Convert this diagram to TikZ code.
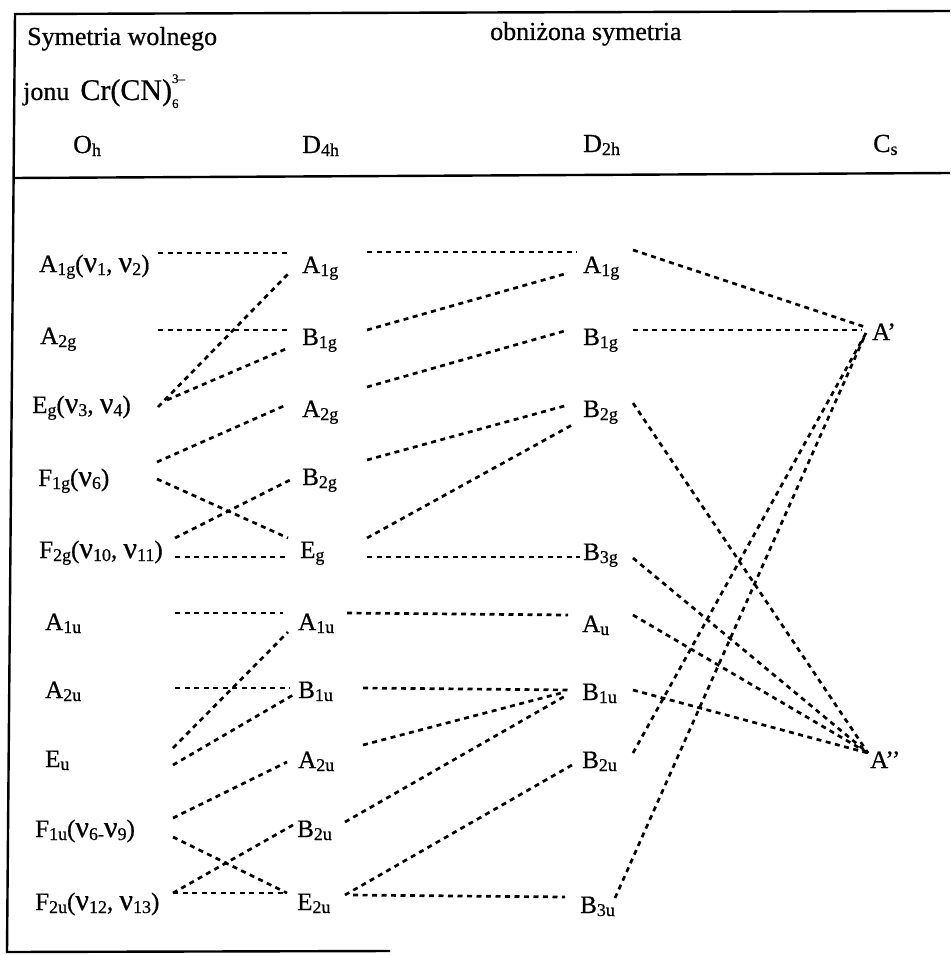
\documentclass[tikz,border=0pt]{standalone}
\usepackage{fontspec}
\setmainfont{Liberation Serif}[FakeBold=0.6]
\usetikzlibrary{calc}
\newcommand\mysub[1]{\raisebox{-3pt}{\fontsize{18}{18}\selectfont #1}}
\newcommand\gnu{{\fontsize{30}{30}\selectfont ν}}
\begin{document}
\begin{tikzpicture}[x=1pt,y=-1pt,
  lab/.style={anchor=base west, inner sep=0pt, font=\fontsize{25}{30}\selectfont},
  hd/.style={anchor=base west, inner sep=0pt, font=\fontsize{26}{30}\selectfont},
  dl/.style={line width=2.7pt, dash pattern=on 5pt off 4.5pt},
  framel/.style={line width=2.4pt}]
\useasboundingbox (0,0) rectangle (950,955);
\fill[white] (0,0) rectangle (950,955);
% frame
\coordinate (ftl) at (15,14);
\coordinate (ftr) at (950,11);
\coordinate (fhl) at (13,178);
\coordinate (fhr) at (950,173);
\coordinate (fbl) at (7,952);
\coordinate (fbr) at (390,951);
\draw[framel] (ftr) -- (ftl) -- (fbl) -- (fbr);
\draw[framel] (fhl) -- (fhr);
% header
\node[hd] (h1) at (27,45) {Symetria wolnego};
\node[hd] (h2) at (23,100) {jonu\hspace{11pt}{\fontsize{30}{30}\selectfont Cr(CN)}\makebox[0pt][l]{\raisebox{17pt}{\fontsize{13}{13}\selectfont 3–}}\raisebox{-8pt}{\fontsize{13}{13}\selectfont 6}};
\node[hd] (h3) at (73,153) {O\mysub{h}};
\node[hd] (h4) at (302,153) {D\mysub{4h}};
\node[hd] (h5) at (490,40) {obniżona symetria};
\node[hd] (h6) at (583,152) {D\mysub{2h}};
\node[hd] (h7) at (873,152) {C\mysub{s}};
% O_h column
\node[lab] (o1) at (39,272) {A\mysub{1g}(\gnu\mysub{1}, \gnu\mysub{2})};
\node[lab] (o2) at (40,344) {A\mysub{2g}};
\node[lab] (o3) at (32,413) {E\mysub{g}(\gnu\mysub{3}, \gnu\mysub{4})};
\node[lab] (o4) at (38,486) {F\mysub{1g}(\gnu\mysub{6})};
\node[lab] (o5) at (39,558) {F\mysub{2g}(\gnu\mysub{10}, \gnu\mysub{11})};
\node[lab] (o6) at (45,630) {A\mysub{1u}};
\node[lab] (o7) at (45,698) {A\mysub{2u}};
\node[lab] (o8) at (45,767) {E\mysub{u}};
\node[lab] (o9) at (35,837) {F\mysub{1u}(\gnu\mysub{6-}\gnu\mysub{9})};
\node[lab] (o10) at (35,910) {F\mysub{2u}(\gnu\mysub{12}, \gnu\mysub{13})};
% D_4h column
\node[lab] (d1) at (302,273) {A\mysub{1g}};
\node[lab] (d2) at (302,345) {B\mysub{1g}};
\node[lab] (d3) at (302,417) {A\mysub{2g}};
\node[lab] (d4) at (302,485) {B\mysub{2g}};
\node[lab] (d5) at (300,558) {E\mysub{g}};
\node[lab] (d6) at (298,630) {A\mysub{1u}};
\node[lab] (d7) at (298,698) {B\mysub{1u}};
\node[lab] (d8) at (298,768) {A\mysub{2u}};
\node[lab] (d9) at (297,837) {B\mysub{2u}};
\node[lab] (d10) at (297,910) {E\mysub{2u}};
% D_2h column
\node[lab] (e1) at (583,273) {A\mysub{1g}};
\node[lab] (e2) at (583,345) {B\mysub{1g}};
\node[lab] (e3) at (583,417) {B\mysub{2g}};
\node[lab] (e4) at (583,560) {B\mysub{3g}};
\node[lab] (e5) at (582,632) {A\mysub{u}};
\node[lab] (e6) at (582,700) {B\mysub{1u}};
\node[lab] (e7) at (582,768) {B\mysub{2u}};
\node[lab] (e8) at (580,913) {B\mysub{3u}};
% C_s column
\node[lab] (c1) at (872,340) {A’};
\node[lab] (c2) at (870,768) {A’’};
% O_h -> D_4h
\draw[dl] ($(o1.base west)+(119,-19)$) -- ($(d1.base west)+(-14,-20)$);
\draw[dl] ($(o2.base west)+(118,-14)$) -- ($(d2.base west)+(-14,-15)$);
\draw[dl] ($(o3.base west)+(126,-6)$) -- ($(d1.base west)+(-12,-1)$);
\draw[dl] ($(o3.base west)+(135,-13)$) -- ($(d2.base west)+(-14,3)$);
\draw[dl] ($(o4.base west)+(119,-24)$) -- ($(d3.base west)+(-16,-12)$);
\draw[dl] ($(o4.base west)+(119,-7)$) -- ($(d5.base west)+(-12,-20)$);
\draw[dl] ($(o5.base west)+(136,-20)$) -- ($(d4.base west)+(-12,-5)$);
\draw[dl] ($(o5.base west)+(136,-1)$) -- ($(d5.base west)+(-15,-1)$);
\draw[dl] ($(o6.base west)+(130,-17)$) -- ($(d6.base west)+(-15,-17)$);
\draw[dl] ($(o8.base west)+(128,-19)$) -- ($(d6.base west)+(-10,2)$);
\draw[dl] ($(o8.base west)+(128,-2)$) -- ($(d7.base west)+(-5,-3)$);
\draw[dl] ($(o7.base west)+(130,-10)$) -- ($(d7.base west)+(-8,-10)$);
\draw[dl] ($(o9.base west)+(138,-19)$) -- ($(d8.base west)+(-11,-6)$);
\draw[dl] ($(o9.base west)+(138,0)$) -- ($(d10.base west)+(-10,-17)$);
\draw[dl] ($(o10.base west)+(138,-17)$) -- ($(d9.base west)+(-4,-12)$);
\draw[dl] ($(o10.base west)+(138,-17)$) -- ($(d10.base west)+(-12,-17)$);
% D_4h -> D_2h
\draw[dl] ($(d1.base west)+(65,-21)$) -- ($(e1.base west)+(-6,-21)$);
\draw[dl] ($(d2.base west)+(65,-15)$) -- ($(e1.base west)+(-15,0)$);
\draw[dl] ($(d3.base west)+(65,-30)$) -- ($(e2.base west)+(-15,-15)$);
\draw[dl] ($(d4.base west)+(65,-25)$) -- ($(e3.base west)+(-15,-12)$);
\draw[dl] ($(d5.base west)+(67,-20)$) -- ($(e3.base west)+(-11,8)$);
\draw[dl] ($(d5.base west)+(67,-1)$) -- ($(e4.base west)+(-3,-3)$);
\draw[dl] ($(d6.base west)+(49,-17)$) -- ($(e5.base west)+(-14,-17)$);
\draw[dl] ($(d7.base west)+(65,-10)$) -- ($(e6.base west)+(-12,-10)$);
\draw[dl] ($(d8.base west)+(65,-23)$) -- ($(e6.base west)+(-17,-8)$);
\draw[dl] ($(d9.base west)+(48,-15)$) -- ($(e6.base west)+(-15,-5)$);
\draw[dl] ($(d10.base west)+(48,-15)$) -- ($(e7.base west)+(-10,-3)$);
\draw[dl] ($(d10.base west)+(56,-15)$) -- ($(e8.base west)+(-15,-16)$);
% D_2h -> C_s
\draw[dl] ($(e1.base west)+(50,-23)$) -- ($(c1.base west)+(-7,-13)$);
\draw[dl] ($(e2.base west)+(50,-15)$) -- ($(c1.base west)+(-10,-10)$);
\draw[dl] ($(e7.base west)+(51,-15)$) -- ($(c1.base west)+(-6,-7)$);
\draw[dl] ($(e8.base west)+(35,-15)$) -- ($(c1.base west)+(-6,-7)$);
\draw[dl] ($(e3.base west)+(50,-14)$) -- ($(c2.base west)+(-2,-15)$);
\draw[dl] ($(e4.base west)+(50,-2)$) -- ($(c2.base west)+(-2,-15)$);
\draw[dl] ($(e5.base west)+(51,-17)$) -- ($(c2.base west)+(-2,-15)$);
\draw[dl] ($(e6.base west)+(51,-10)$) -- ($(c2.base west)+(-2,-15)$);
\end{tikzpicture}
\end{document}
